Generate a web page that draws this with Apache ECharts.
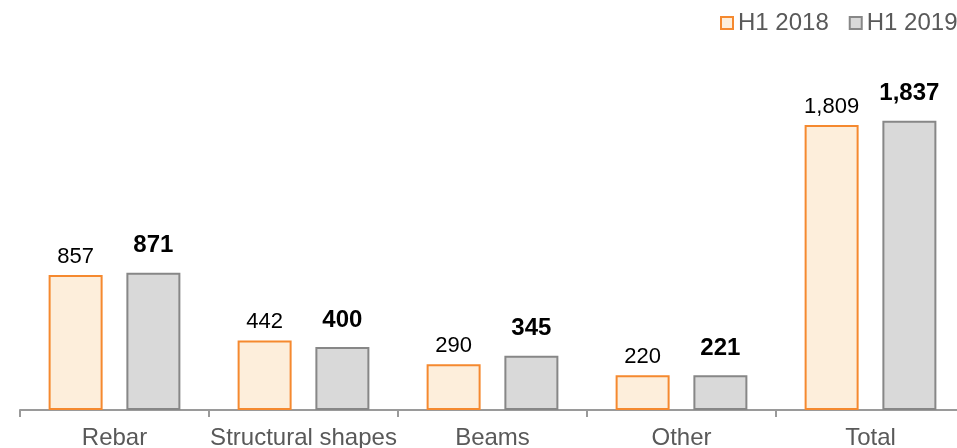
<!DOCTYPE html>
<html>
<head>
<meta charset="utf-8">
<script src="https://cdn.jsdelivr.net/npm/echarts@6/dist/echarts.min.js"></script>
<style>
  html, body { margin: 0; padding: 0; background: #fff; }
  #chart { width: 957px; height: 448px; }
</style>
</head>
<body>
<div id="chart"></div>
<script>
// data
const categories = ['Rebar', 'Structural shapes', 'Beams', 'Other', 'Total'];
const h1_2018 = [857, 442, 290, 220, 1809];
const h1_2019 = [871, 400, 345, 221, 1837];

const font = '"Liberation Sans", Arial, sans-serif';
const chart = echarts.init(document.getElementById('chart'));

const fmt = (p) => p.value.toLocaleString('en-US');

chart.setOption({
    animation: false,
    textStyle: { fontFamily: font },
    legend: {
        left: 720,
        top: 11,
        width: 400,
        padding: 0,
        itemWidth: 12,
        itemHeight: 12,
        itemGap: 20,
        icon: 'rect',
        textStyle: { fontFamily: font, fontSize: 24, color: '#595959' },
        data: ['H1 2018', 'H1 2019']
    },
    grid: {
        left: 20,
        width: 945,
        top: 95,
        bottom: 38,
        outerBoundsMode: 'none',
        containLabel: false
    },
    xAxis: {
        type: 'category',
        data: categories,
        axisLine: { lineStyle: { color: '#9a9a9a', width: 2 } },
        axisTick: { show: true, length: 7, lineStyle: { color: '#9a9a9a', width: 2 } },
        axisLabel: {
            fontFamily: font,
            fontSize: 24,
            color: '#595959',
            margin: 16,
            interval: 0
        }
    },
    yAxis: {
        type: 'value',
        min: 0,
        max: 2000,
        show: false
    },
    series: [
        {
            name: 'H1 2018',
            type: 'bar',
            data: h1_2018,
            barWidth: 54,
            barGap: '44%',
            itemStyle: { color: '#fdeedb', borderColor: '#f5892f', borderWidth: 2 },
            label: {
                show: true,
                position: 'top',
                distance: 7,
                fontFamily: font,
                fontSize: 22,
                color: '#000',
                formatter: fmt
            }
        },
        {
            name: 'H1 2019',
            type: 'bar',
            data: h1_2019,
            barWidth: 54,
            itemStyle: { color: '#d9d9d9', borderColor: '#878787', borderWidth: 2 },
            label: {
                show: true,
                position: 'top',
                distance: 15,
                fontFamily: font,
                fontSize: 24,
                fontWeight: 'bold',
                color: '#000',
                formatter: fmt
            }
        }
    ]
});
</script>
</body>
</html>
